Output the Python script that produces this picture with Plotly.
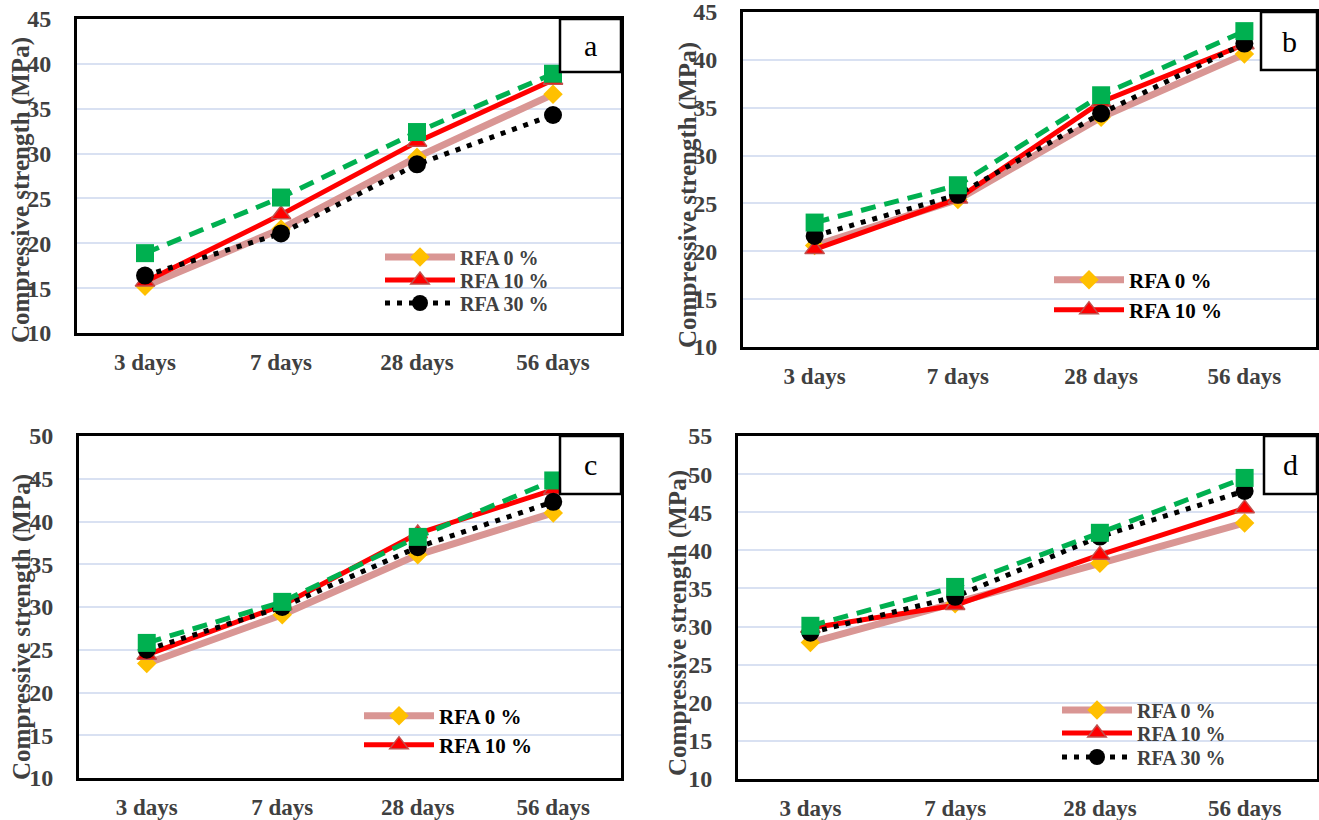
import plotly.graph_objects as go

categories = ["3 days", "7 days", "28 days", "56 days"]

# Panel a
a_rfa0 = [15.2, 21.6, 29.6, 36.6]
a_rfa10 = [15.7, 23.2, 31.3, 38.2]
a_rfa30 = [16.4, 21.1, 28.8, 34.3]
a_rfa_g = [18.9, 25.1, 32.4, 38.9]
# Panel b
b_rfa0 = [20.6, 25.4, 34.0, 40.6]
b_rfa10 = [20.2, 25.5, 35.6, 41.6]
b_rfa30 = [21.6, 25.9, 34.4, 41.7]
b_rfa_g = [23.0, 26.9, 36.3, 43.0]
# Panel c
c_rfa0 = [23.4, 29.1, 36.1, 41.0]
c_rfa10 = [24.4, 30.2, 38.6, 43.7]
c_rfa30 = [25.0, 30.0, 37.0, 42.3]
c_rfa_g = [25.8, 30.6, 38.2, 44.8]
# Panel d
d_rfa0 = [27.9, 33.0, 38.3, 43.6]
d_rfa10 = [29.8, 32.8, 39.4, 45.5]
d_rfa30 = [29.2, 33.9, 41.8, 47.8]
d_rfa_g = [30.1, 35.2, 42.3, 49.5]

series_names = ["RFA 0 %", "RFA 10 %", "RFA 30 %", "RFA 50 %"]
panel_letters = ["a", "b", "c", "d"]
y_ranges = [(10, 45), (10, 45), (10, 50), (10, 55)]

W, H = 1319, 820
# pixel boxes: (left, right, top, bottom)
boxes = [(77, 621, 19, 333), (743, 1316, 12, 347), (79, 621, 436, 778), (738, 1317, 436, 779)]
label_boxes = [(560, 621, 19, 72), (1261, 1317, 12, 70), (560, 621, 436, 494), (1264, 1317, 436, 494)]
title_pos = [(21, 190), (688, 195), (22, 627), (678, 623)]
# legend: x of line start, row centres
legend_x = [380, 1049, 359, 1057]
legend_rows = [[257, 280, 303], [280, 310], [716, 745], [710, 733, 757]]
legend_colors = ["#404040", "#000000", "#000000", "#404040"]
legend_sizes = [20, 21, 21, 20]

data = [
    [a_rfa0, a_rfa10, a_rfa30, a_rfa_g],
    [b_rfa0, b_rfa10, b_rfa30, b_rfa_g],
    [c_rfa0, c_rfa10, c_rfa30, c_rfa_g],
    [d_rfa0, d_rfa10, d_rfa30, d_rfa_g],
]

FONT = "Liberation Serif"
GRAY = "#404040"

styles = [
    dict(line=dict(color="#D99694", width=7), marker=dict(symbol="diamond", color="#FFC000", size=15,
                                                          line=dict(color="#FFC000", width=0))),
    dict(line=dict(color="#FF0000", width=5), marker=dict(symbol="triangle-up", color="#FF0000", size=17,
                                                          line=dict(color="#C0504D", width=1.5))),
    dict(line=dict(color="#000000", width=5, dash="5px,7px"), marker=dict(symbol="circle", color="#000000", size=18)),
    dict(line=dict(color="#00B050", width=5, dash="15px,9px"), marker=dict(symbol="square", color="#00B050", size=18)),
]

fig = go.Figure()

layout = dict(
    width=W, height=H, margin=dict(l=0, r=0, t=0, b=0, autoexpand=False),
    paper_bgcolor="white", plot_bgcolor="white", showlegend=True,
)

legend_idx = 0
for p in range(4):
    xa = "x" if p == 0 else f"x{p+1}"
    ya = "y" if p == 0 else f"y{p+1}"
    for s in range(4):
        show = s < len(legend_rows[p])
        kw = {}
        if show:
            legend_idx += 1
            lname = "legend" if legend_idx == 1 else f"legend{legend_idx}"
            kw["legend"] = lname
            layout[lname] = dict(
                x=(legend_x[p]) / W, y=1 - legend_rows[p][s] / H, xanchor="left", yanchor="middle",
                bgcolor="rgba(0,0,0,0)", borderwidth=0, itemwidth=70,
                font=dict(family=FONT, size=legend_sizes[p], color=legend_colors[p], weight="bold"),
            )
        fig.add_trace(go.Scatter(
            x=categories, y=data[p][s], name=series_names[s], mode="lines+markers",
            xaxis=xa, yaxis=ya, showlegend=show,
            line=styles[s]["line"], marker=styles[s]["marker"], **kw,
        ))

shapes = []
annotations = []
for p in range(4):
    l, r, t, b = boxes[p]
    sx = "" if p == 0 else str(p + 1)
    layout[f"xaxis{sx}"] = dict(
        domain=[l / W, r / W], anchor=f"y{sx}", type="category",
        range=[-0.5, 3.5], showgrid=False, zeroline=False, automargin=False,
        showline=True, linecolor="black", linewidth=3, mirror=True,
        ticks="", ticklabelstandoff=6, ticklabeloverflow="allow",
        tickfont=dict(family=FONT, size=23, color=GRAY, weight="bold"),
    )
    y0, y1 = y_ranges[p]
    layout[f"yaxis{sx}"] = dict(
        domain=[1 - b / H, 1 - t / H], anchor=f"x{sx}", range=[y0, y1],
        dtick=5, tick0=10, showgrid=True, gridcolor="#D9E1F2", gridwidth=1.5,
        zeroline=False, showline=True, linecolor="black", linewidth=3, mirror=True,
        ticks="", ticklabelstandoff=18, automargin=False, ticklabeloverflow="allow",
        tickfont=dict(family=FONT, size=24, color=GRAY, weight="bold"),
    )
    bl, br, bt, bb = label_boxes[p]
    shapes.append(dict(type="rect", xref="paper", yref="paper",
                       x0=bl / W, x1=br / W, y0=1 - bb / H, y1=1 - bt / H,
                       line=dict(color="black", width=2.5), fillcolor="white", layer="above"))
    annotations.append(dict(text=panel_letters[p], xref="paper", yref="paper",
                            x=(bl + br) / 2 / W, y=1 - (bt + bb) / 2 / H,
                            xanchor="center", yanchor="middle", showarrow=False,
                            font=dict(family=FONT, size=30, color="black")))
    tx, ty = title_pos[p]
    annotations.append(dict(text="Compressive strength (MPa)", xref="paper", yref="paper",
                            x=tx / W, y=1 - ty / H, xanchor="center", yanchor="middle",
                            textangle=-90, showarrow=False,
                            font=dict(family=FONT, size=25, color=GRAY, weight="bold")))

layout["shapes"] = shapes
layout["annotations"] = annotations
fig.update_layout(**layout)
fig.write_html("out.html")
